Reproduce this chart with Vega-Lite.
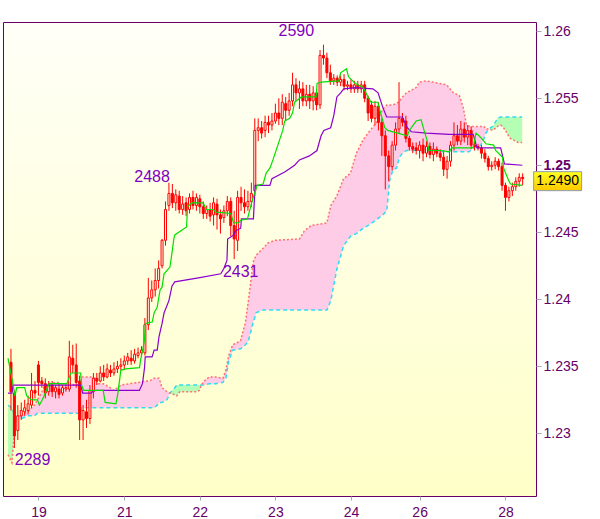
{
  "$schema": "https://vega.github.io/schema/vega-lite/v6.json",
  "width": 533,
  "height": 474,
  "autosize": "none",
  "padding": {"left": 3, "top": 22, "right": 64, "bottom": 23},
  "background": "#FFFFFF",
  "config": {
    "view": {"stroke": "#660066", "strokeWidth": 1, "fill": {"gradient": "linear", "x1": 0, "y1": 0, "x2": 0, "y2": 1, "stops": [{"offset": 0, "color": "#FFFFF8"}, {"offset": 1, "color": "#FFFFC8"}]}},
    "font": "Liberation Sans"
  },
  "datasets": {
    "bars": [
      {"t":0,"o":1.2353,"h":1.2363,"l":1.2317,"c":1.2331},
      {"t":1,"o":1.2330,"h":1.2332,"l":1.2289,"c":1.2298},
      {"t":2,"o":1.2302,"h":1.2321,"l":1.2295,"c":1.2313},
      {"t":3,"o":1.2313,"h":1.2323,"l":1.2310,"c":1.2317},
      {"t":4,"o":1.2316,"h":1.2325,"l":1.2313,"c":1.2319},
      {"t":5,"o":1.2317,"h":1.2328,"l":1.2314,"c":1.2322},
      {"t":6,"o":1.2321,"h":1.2345,"l":1.2319,"c":1.2332},
      {"t":7,"o":1.2332,"h":1.2339,"l":1.2326,"c":1.2330},
      {"t":8,"o":1.2351,"h":1.2354,"l":1.2328,"c":1.2338},
      {"t":9,"o":1.2339,"h":1.2342,"l":1.2334,"c":1.2337},
      {"t":10,"o":1.2337,"h":1.2341,"l":1.2326,"c":1.2330},
      {"t":11,"o":1.2331,"h":1.2339,"l":1.2328,"c":1.2336},
      {"t":12,"o":1.2336,"h":1.2339,"l":1.2327,"c":1.2331},
      {"t":13,"o":1.2331,"h":1.2336,"l":1.2326,"c":1.2334},
      {"t":14,"o":1.2333,"h":1.2337,"l":1.2326,"c":1.2329},
      {"t":15,"o":1.2330,"h":1.2336,"l":1.2328,"c":1.2334},
      {"t":16,"o":1.2333,"h":1.2336,"l":1.2331,"c":1.2334},
      {"t":17,"o":1.2333,"h":1.2369,"l":1.2331,"c":1.2357},
      {"t":18,"o":1.2356,"h":1.2366,"l":1.2345,"c":1.2351},
      {"t":19,"o":1.2351,"h":1.2367,"l":1.2334,"c":1.2338},
      {"t":20,"o":1.2339,"h":1.2343,"l":1.2295,"c":1.2310},
      {"t":21,"o":1.2310,"h":1.2321,"l":1.2295,"c":1.2317},
      {"t":22,"o":1.2316,"h":1.2325,"l":1.2304,"c":1.2311},
      {"t":23,"o":1.2311,"h":1.2336,"l":1.2307,"c":1.2332},
      {"t":24,"o":1.2331,"h":1.2345,"l":1.2326,"c":1.2341},
      {"t":25,"o":1.2341,"h":1.2345,"l":1.2336,"c":1.2339},
      {"t":26,"o":1.2339,"h":1.2350,"l":1.2338,"c":1.2345},
      {"t":27,"o":1.2345,"h":1.2351,"l":1.2339,"c":1.2342},
      {"t":28,"o":1.2342,"h":1.2352,"l":1.2341,"c":1.2348},
      {"t":29,"o":1.2347,"h":1.2351,"l":1.2342,"c":1.2345},
      {"t":30,"o":1.2345,"h":1.2353,"l":1.2343,"c":1.2348},
      {"t":31,"o":1.2348,"h":1.2354,"l":1.2345,"c":1.2350},
      {"t":32,"o":1.2350,"h":1.2356,"l":1.2347,"c":1.2351},
      {"t":33,"o":1.2351,"h":1.2358,"l":1.2348,"c":1.2354},
      {"t":34,"o":1.2354,"h":1.2360,"l":1.2351,"c":1.2357},
      {"t":35,"o":1.2356,"h":1.2362,"l":1.2351,"c":1.2354},
      {"t":36,"o":1.2354,"h":1.2363,"l":1.2352,"c":1.2359},
      {"t":37,"o":1.2358,"h":1.2364,"l":1.2356,"c":1.2360},
      {"t":38,"o":1.2360,"h":1.2365,"l":1.2357,"c":1.2362},
      {"t":39,"o":1.2360,"h":1.2386,"l":1.2358,"c":1.2381},
      {"t":40,"o":1.2381,"h":1.2416,"l":1.2377,"c":1.2401},
      {"t":41,"o":1.2401,"h":1.2414,"l":1.2398,"c":1.2407},
      {"t":42,"o":1.2407,"h":1.2423,"l":1.2402,"c":1.2414},
      {"t":43,"o":1.2414,"h":1.2429,"l":1.2408,"c":1.2423},
      {"t":44,"o":1.2425,"h":1.2445,"l":1.2423,"c":1.2444},
      {"t":45,"o":1.2444,"h":1.2473,"l":1.2440,"c":1.2467},
      {"t":46,"o":1.2470,"h":1.2487,"l":1.2466,"c":1.2479},
      {"t":47,"o":1.2479,"h":1.2486,"l":1.2468,"c":1.2472},
      {"t":48,"o":1.2472,"h":1.2482,"l":1.2466,"c":1.2478},
      {"t":49,"o":1.2477,"h":1.2481,"l":1.2464,"c":1.2467},
      {"t":50,"o":1.2467,"h":1.2477,"l":1.2463,"c":1.2471},
      {"t":51,"o":1.2472,"h":1.2476,"l":1.2462,"c":1.2466},
      {"t":52,"o":1.2467,"h":1.2479,"l":1.2464,"c":1.2476},
      {"t":53,"o":1.2476,"h":1.2481,"l":1.2467,"c":1.2470},
      {"t":54,"o":1.2470,"h":1.2479,"l":1.2466,"c":1.2476},
      {"t":55,"o":1.2475,"h":1.2478,"l":1.2464,"c":1.2469},
      {"t":56,"o":1.2469,"h":1.2473,"l":1.2460,"c":1.2464},
      {"t":57,"o":1.2464,"h":1.2470,"l":1.2460,"c":1.2467},
      {"t":58,"o":1.2467,"h":1.2472,"l":1.2458,"c":1.2462},
      {"t":59,"o":1.2463,"h":1.2476,"l":1.2455,"c":1.2472},
      {"t":60,"o":1.2471,"h":1.2475,"l":1.2452,"c":1.2463},
      {"t":61,"o":1.2463,"h":1.2467,"l":1.2449,"c":1.2460},
      {"t":62,"o":1.2461,"h":1.2470,"l":1.2457,"c":1.2466},
      {"t":63,"o":1.2466,"h":1.2477,"l":1.2462,"c":1.2473},
      {"t":64,"o":1.2473,"h":1.2476,"l":1.2447,"c":1.2455},
      {"t":65,"o":1.2455,"h":1.2466,"l":1.2430,"c":1.2445},
      {"t":66,"o":1.2444,"h":1.2481,"l":1.2436,"c":1.2476},
      {"t":67,"o":1.2476,"h":1.2484,"l":1.2466,"c":1.2472},
      {"t":68,"o":1.2472,"h":1.2482,"l":1.2464,"c":1.2469},
      {"t":69,"o":1.2469,"h":1.2481,"l":1.2466,"c":1.2473},
      {"t":70,"o":1.2473,"h":1.2487,"l":1.2469,"c":1.2479},
      {"t":71,"o":1.2481,"h":1.2535,"l":1.2477,"c":1.2526},
      {"t":72,"o":1.2526,"h":1.2535,"l":1.2518,"c":1.2528},
      {"t":73,"o":1.2528,"h":1.2533,"l":1.2520,"c":1.2524},
      {"t":74,"o":1.2526,"h":1.2537,"l":1.2521,"c":1.2532},
      {"t":75,"o":1.2532,"h":1.2537,"l":1.2524,"c":1.2530},
      {"t":76,"o":1.2530,"h":1.2539,"l":1.2526,"c":1.2533},
      {"t":77,"o":1.2533,"h":1.2546,"l":1.2531,"c":1.2539},
      {"t":78,"o":1.2539,"h":1.2550,"l":1.2530,"c":1.2535},
      {"t":79,"o":1.2535,"h":1.2553,"l":1.2530,"c":1.2547},
      {"t":80,"o":1.2546,"h":1.2551,"l":1.2533,"c":1.2541},
      {"t":81,"o":1.2541,"h":1.2554,"l":1.2537,"c":1.2548},
      {"t":82,"o":1.2548,"h":1.2569,"l":1.2544,"c":1.2560},
      {"t":83,"o":1.2560,"h":1.2565,"l":1.2548,"c":1.2554},
      {"t":84,"o":1.2554,"h":1.2563,"l":1.2542,"c":1.2557},
      {"t":85,"o":1.2557,"h":1.2562,"l":1.2544,"c":1.2548},
      {"t":86,"o":1.2548,"h":1.2560,"l":1.2544,"c":1.2553},
      {"t":87,"o":1.2553,"h":1.2560,"l":1.2542,"c":1.2548},
      {"t":88,"o":1.2548,"h":1.2559,"l":1.2541,"c":1.2554},
      {"t":89,"o":1.2554,"h":1.2557,"l":1.2541,"c":1.2545},
      {"t":90,"o":1.2545,"h":1.2586,"l":1.2542,"c":1.2582},
      {"t":91,"o":1.2582,"h":1.2590,"l":1.2575,"c":1.2580},
      {"t":92,"o":1.2580,"h":1.2584,"l":1.2565,"c":1.2569},
      {"t":93,"o":1.2569,"h":1.2575,"l":1.2560,"c":1.2563},
      {"t":94,"o":1.2563,"h":1.2568,"l":1.2560,"c":1.2565},
      {"t":95,"o":1.2565,"h":1.2567,"l":1.2559,"c":1.2562},
      {"t":96,"o":1.2562,"h":1.2567,"l":1.2559,"c":1.2564},
      {"t":97,"o":1.2564,"h":1.2568,"l":1.2556,"c":1.2559},
      {"t":98,"o":1.2559,"h":1.2563,"l":1.2556,"c":1.2560},
      {"t":99,"o":1.2560,"h":1.2564,"l":1.2554,"c":1.2557},
      {"t":100,"o":1.2557,"h":1.2563,"l":1.2554,"c":1.2560},
      {"t":101,"o":1.2560,"h":1.2563,"l":1.2554,"c":1.2557},
      {"t":102,"o":1.2557,"h":1.2563,"l":1.2554,"c":1.2560},
      {"t":103,"o":1.2560,"h":1.2563,"l":1.2547,"c":1.2550},
      {"t":104,"o":1.2550,"h":1.2552,"l":1.2533,"c":1.2539},
      {"t":105,"o":1.2545,"h":1.2548,"l":1.2532,"c":1.2535},
      {"t":106,"o":1.2535,"h":1.2548,"l":1.2530,"c":1.2544},
      {"t":107,"o":1.2544,"h":1.2547,"l":1.2526,"c":1.2532},
      {"t":108,"o":1.2532,"h":1.2535,"l":1.2507,"c":1.2522},
      {"t":109,"o":1.2522,"h":1.2526,"l":1.2482,"c":1.2507},
      {"t":110,"o":1.2507,"h":1.2511,"l":1.2488,"c":1.2499},
      {"t":111,"o":1.2499,"h":1.2518,"l":1.2496,"c":1.2515},
      {"t":112,"o":1.2515,"h":1.2532,"l":1.2511,"c":1.2527},
      {"t":113,"o":1.2527,"h":1.2562,"l":1.2524,"c":1.2535},
      {"t":114,"o":1.2535,"h":1.2539,"l":1.2529,"c":1.2532},
      {"t":115,"o":1.2533,"h":1.2537,"l":1.2517,"c":1.2520},
      {"t":116,"o":1.2520,"h":1.2522,"l":1.2511,"c":1.2514},
      {"t":117,"o":1.2514,"h":1.2517,"l":1.2509,"c":1.2512},
      {"t":118,"o":1.2513,"h":1.2517,"l":1.2508,"c":1.2511},
      {"t":119,"o":1.2511,"h":1.2518,"l":1.2505,"c":1.2515},
      {"t":120,"o":1.2515,"h":1.2520,"l":1.2503,"c":1.2509},
      {"t":121,"o":1.2509,"h":1.2518,"l":1.2506,"c":1.2514},
      {"t":122,"o":1.2514,"h":1.2517,"l":1.2505,"c":1.2508},
      {"t":123,"o":1.2508,"h":1.2517,"l":1.2503,"c":1.2512},
      {"t":124,"o":1.2512,"h":1.2514,"l":1.2506,"c":1.2509},
      {"t":125,"o":1.2509,"h":1.2512,"l":1.2503,"c":1.2506},
      {"t":126,"o":1.2506,"h":1.2511,"l":1.2492,"c":1.2497},
      {"t":127,"o":1.2497,"h":1.2507,"l":1.2490,"c":1.2503},
      {"t":128,"o":1.2503,"h":1.2518,"l":1.2499,"c":1.2515},
      {"t":129,"o":1.2515,"h":1.2532,"l":1.2511,"c":1.2522},
      {"t":130,"o":1.2522,"h":1.2530,"l":1.2515,"c":1.2518},
      {"t":131,"o":1.2518,"h":1.2533,"l":1.2515,"c":1.2527},
      {"t":132,"o":1.2527,"h":1.2532,"l":1.2517,"c":1.2521},
      {"t":133,"o":1.2521,"h":1.2530,"l":1.2515,"c":1.2526},
      {"t":134,"o":1.2526,"h":1.2529,"l":1.2512,"c":1.2515},
      {"t":135,"o":1.2515,"h":1.2518,"l":1.2511,"c":1.2514},
      {"t":136,"o":1.2514,"h":1.2516,"l":1.2511,"c":1.2513},
      {"t":137,"o":1.2513,"h":1.2515,"l":1.2505,"c":1.2509},
      {"t":138,"o":1.2509,"h":1.2512,"l":1.2502,"c":1.2505},
      {"t":139,"o":1.2505,"h":1.2507,"l":1.2496,"c":1.2499},
      {"t":140,"o":1.2499,"h":1.2503,"l":1.2496,"c":1.2500},
      {"t":141,"o":1.2500,"h":1.2506,"l":1.2497,"c":1.2503},
      {"t":142,"o":1.2503,"h":1.2505,"l":1.2496,"c":1.2499},
      {"t":143,"o":1.2499,"h":1.2502,"l":1.2481,"c":1.2485},
      {"t":144,"o":1.2485,"h":1.2487,"l":1.2466,"c":1.2476},
      {"t":145,"o":1.2476,"h":1.2484,"l":1.2473,"c":1.2481},
      {"t":146,"o":1.2481,"h":1.2487,"l":1.2477,"c":1.2484},
      {"t":147,"o":1.2484,"h":1.2491,"l":1.2481,"c":1.2488},
      {"t":148,"o":1.2488,"h":1.2494,"l":1.2484,"c":1.2491},
      {"t":149,"o":1.2491,"h":1.2494,"l":1.2485,"c":1.2490}
    ],
    "cloud": [
      {"t":-0.86,"a":1.2321,"b":1.2284,"seg":"g1","kind":"bull"},
      {"t":0.29,"a":1.2319,"b":1.2278,"seg":"g1","kind":"bull"},
      {"t":1.14,"a":1.2313,"b":1.2306,"seg":"g1","kind":"bull"},
      {"t":1.43,"a":1.2312,"b":1.2312,"seg":"g1","kind":"bull"},
      {"t":1.43,"a":1.2312,"b":1.2312,"seg":"p1","kind":"bear"},
      {"t":2,"a":1.2311,"b":1.2313,"seg":"p1","kind":"bear"},
      {"t":3.14,"a":1.2311,"b":1.2314,"seg":"p1","kind":"bear"},
      {"t":4.86,"a":1.2313,"b":1.2316,"seg":"p1","kind":"bear"},
      {"t":6.86,"a":1.2313,"b":1.2321,"seg":"p1","kind":"bear"},
      {"t":7.71,"a":1.2315,"b":1.2325,"seg":"p1","kind":"bear"},
      {"t":8.86,"a":1.2315,"b":1.2330,"seg":"p1","kind":"bear"},
      {"t":9.71,"a":1.2315,"b":1.2335,"seg":"p1","kind":"bear"},
      {"t":11.14,"a":1.2315,"b":1.2337,"seg":"p1","kind":"bear"},
      {"t":13.43,"a":1.2315,"b":1.2338,"seg":"p1","kind":"bear"},
      {"t":14.57,"a":1.2315,"b":1.2337,"seg":"p1","kind":"bear"},
      {"t":20.29,"a":1.2315,"b":1.2336,"seg":"p1","kind":"bear"},
      {"t":20.57,"a":1.2319,"b":1.2342,"seg":"p1","kind":"bear"},
      {"t":23.14,"a":1.2319,"b":1.2342,"seg":"p1","kind":"bear"},
      {"t":24.57,"a":1.2319,"b":1.2341,"seg":"p1","kind":"bear"},
      {"t":25.43,"a":1.2319,"b":1.2337,"seg":"p1","kind":"bear"},
      {"t":26.86,"a":1.2319,"b":1.2337,"seg":"p1","kind":"bear"},
      {"t":28.86,"a":1.2319,"b":1.2334,"seg":"p1","kind":"bear"},
      {"t":29.71,"a":1.2319,"b":1.2332,"seg":"p1","kind":"bear"},
      {"t":31.14,"a":1.2319,"b":1.2334,"seg":"p1","kind":"bear"},
      {"t":32,"a":1.2319,"b":1.2336,"seg":"p1","kind":"bear"},
      {"t":34.57,"a":1.2319,"b":1.2337,"seg":"p1","kind":"bear"},
      {"t":37.43,"a":1.2319,"b":1.2338,"seg":"p1","kind":"bear"},
      {"t":38.86,"a":1.2319,"b":1.2339,"seg":"p1","kind":"bear"},
      {"t":40.29,"a":1.2319,"b":1.2339,"seg":"p1","kind":"bear"},
      {"t":41.71,"a":1.2319,"b":1.2341,"seg":"p1","kind":"bear"},
      {"t":42.57,"a":1.2321,"b":1.2341,"seg":"p1","kind":"bear"},
      {"t":43.14,"a":1.2323,"b":1.2341,"seg":"p1","kind":"bear"},
      {"t":44,"a":1.2323,"b":1.2334,"seg":"p1","kind":"bear"},
      {"t":45.43,"a":1.2325,"b":1.2331,"seg":"p1","kind":"bear"},
      {"t":46.29,"a":1.2330,"b":1.2330,"seg":"p1","kind":"bear"},
      {"t":46.29,"a":1.2330,"b":1.2330,"seg":"g2","kind":"bull"},
      {"t":47.43,"a":1.2333,"b":1.2329,"seg":"g2","kind":"bull"},
      {"t":48.29,"a":1.2336,"b":1.2328,"seg":"g2","kind":"bull"},
      {"t":49.14,"a":1.2336,"b":1.2331,"seg":"g2","kind":"bull"},
      {"t":51.14,"a":1.2336,"b":1.2331,"seg":"g2","kind":"bull"},
      {"t":54,"a":1.2336,"b":1.2331,"seg":"g2","kind":"bull"},
      {"t":54.86,"a":1.2336,"b":1.2332,"seg":"g2","kind":"bull"},
      {"t":55.43,"a":1.2336,"b":1.2336,"seg":"g2","kind":"bull"},
      {"t":55.43,"a":1.2336,"b":1.2336,"seg":"p2","kind":"bear"},
      {"t":56.29,"a":1.2336,"b":1.2339,"seg":"p2","kind":"bear"},
      {"t":57.71,"a":1.2337,"b":1.2342,"seg":"p2","kind":"bear"},
      {"t":59.71,"a":1.2337,"b":1.2342,"seg":"p2","kind":"bear"},
      {"t":61.71,"a":1.2338,"b":1.2341,"seg":"p2","kind":"bear"},
      {"t":62.57,"a":1.2341,"b":1.2347,"seg":"p2","kind":"bear"},
      {"t":63.43,"a":1.2354,"b":1.2358,"seg":"p2","kind":"bear"},
      {"t":64.57,"a":1.2362,"b":1.2366,"seg":"p2","kind":"bear"},
      {"t":66.86,"a":1.2363,"b":1.2369,"seg":"p2","kind":"bear"},
      {"t":68.29,"a":1.2366,"b":1.2383,"seg":"p2","kind":"bear"},
      {"t":69.14,"a":1.2369,"b":1.2399,"seg":"p2","kind":"bear"},
      {"t":70.57,"a":1.2383,"b":1.2428,"seg":"p2","kind":"bear"},
      {"t":71.43,"a":1.2390,"b":1.2433,"seg":"p2","kind":"bear"},
      {"t":73.43,"a":1.2392,"b":1.2438,"seg":"p2","kind":"bear"},
      {"t":74.86,"a":1.2392,"b":1.2442,"seg":"p2","kind":"bear"},
      {"t":76.86,"a":1.2392,"b":1.2444,"seg":"p2","kind":"bear"},
      {"t":84,"a":1.2392,"b":1.2445,"seg":"p2","kind":"bear"},
      {"t":85.43,"a":1.2392,"b":1.2451,"seg":"p2","kind":"bear"},
      {"t":87.43,"a":1.2392,"b":1.2455,"seg":"p2","kind":"bear"},
      {"t":92,"a":1.2392,"b":1.2457,"seg":"p2","kind":"bear"},
      {"t":93.14,"a":1.2399,"b":1.2470,"seg":"p2","kind":"bear"},
      {"t":94.86,"a":1.2422,"b":1.2477,"seg":"p2","kind":"bear"},
      {"t":96.86,"a":1.2440,"b":1.2490,"seg":"p2","kind":"bear"},
      {"t":98.86,"a":1.2447,"b":1.2494,"seg":"p2","kind":"bear"},
      {"t":100.57,"a":1.2449,"b":1.2509,"seg":"p2","kind":"bear"},
      {"t":102.57,"a":1.2453,"b":1.2519,"seg":"p2","kind":"bear"},
      {"t":104.57,"a":1.2456,"b":1.2526,"seg":"p2","kind":"bear"},
      {"t":106.29,"a":1.2459,"b":1.2531,"seg":"p2","kind":"bear"},
      {"t":108.29,"a":1.2463,"b":1.2542,"seg":"p2","kind":"bear"},
      {"t":109.43,"a":1.2466,"b":1.2545,"seg":"p2","kind":"bear"},
      {"t":110.29,"a":1.2489,"b":1.2545,"seg":"p2","kind":"bear"},
      {"t":111.14,"a":1.2496,"b":1.2545,"seg":"p2","kind":"bear"},
      {"t":112.29,"a":1.2498,"b":1.2546,"seg":"p2","kind":"bear"},
      {"t":113.14,"a":1.2506,"b":1.2548,"seg":"p2","kind":"bear"},
      {"t":114,"a":1.2509,"b":1.2551,"seg":"p2","kind":"bear"},
      {"t":115.14,"a":1.2511,"b":1.2554,"seg":"p2","kind":"bear"},
      {"t":118,"a":1.2511,"b":1.2558,"seg":"p2","kind":"bear"},
      {"t":118.86,"a":1.2511,"b":1.2562,"seg":"p2","kind":"bear"},
      {"t":120.86,"a":1.2511,"b":1.2563,"seg":"p2","kind":"bear"},
      {"t":126.86,"a":1.2510,"b":1.2560,"seg":"p2","kind":"bear"},
      {"t":128.86,"a":1.2510,"b":1.2554,"seg":"p2","kind":"bear"},
      {"t":130.57,"a":1.2510,"b":1.2552,"seg":"p2","kind":"bear"},
      {"t":131.71,"a":1.2510,"b":1.2543,"seg":"p2","kind":"bear"},
      {"t":132.57,"a":1.2510,"b":1.2531,"seg":"p2","kind":"bear"},
      {"t":133.43,"a":1.2510,"b":1.2529,"seg":"p2","kind":"bear"},
      {"t":134.57,"a":1.2513,"b":1.2529,"seg":"p2","kind":"bear"},
      {"t":136.86,"a":1.2515,"b":1.2529,"seg":"p2","kind":"bear"},
      {"t":137.71,"a":1.2520,"b":1.2529,"seg":"p2","kind":"bear"},
      {"t":138.29,"a":1.2524,"b":1.2527,"seg":"p2","kind":"bear"},
      {"t":139.14,"a":1.2527,"b":1.2527,"seg":"p2","kind":"bear"},
      {"t":139.14,"a":1.2527,"b":1.2527,"seg":"g3","kind":"bull"},
      {"t":140.29,"a":1.2529,"b":1.2526,"seg":"g3","kind":"bull"},
      {"t":141.71,"a":1.2535,"b":1.2529,"seg":"g3","kind":"bull"},
      {"t":142.57,"a":1.2536,"b":1.2530,"seg":"g3","kind":"bull"},
      {"t":143.14,"a":1.2536,"b":1.2529,"seg":"g3","kind":"bull"},
      {"t":144,"a":1.2536,"b":1.2526,"seg":"g3","kind":"bull"},
      {"t":144.86,"a":1.2536,"b":1.2522,"seg":"g3","kind":"bull"},
      {"t":145.43,"a":1.2536,"b":1.2520,"seg":"g3","kind":"bull"},
      {"t":147.71,"a":1.2536,"b":1.2517,"seg":"g3","kind":"bull"},
      {"t":148.86,"a":1.2536,"b":1.2517,"seg":"g3","kind":"bull"}
    ],
    "kijun": [
      {"t":-0.86,"v":1.2330},{"t":0.3,"v":1.2330},{"t":0.6,"v":1.2336},{"t":20.3,"v":1.2336},{"t":20.9,"v":1.2330},{"t":23.4,"v":1.2330},{"t":24,"v":1.2332},{"t":37.4,"v":1.2332},{"t":38.3,"v":1.2337},{"t":38.9,"v":1.2349},{"t":39.1,"v":1.2357},{"t":41.1,"v":1.2357},{"t":41.7,"v":1.2362},{"t":42.6,"v":1.2362},{"t":43.1,"v":1.2372},{"t":44,"v":1.2382},{"t":44.6,"v":1.2390},{"t":46,"v":1.2399},{"t":46.9,"v":1.2410},{"t":47.7,"v":1.2413},{"t":54.6,"v":1.2416},{"t":61.1,"v":1.2419},{"t":62,"v":1.2423},{"t":62.9,"v":1.2429},{"t":63.1,"v":1.2445},{"t":64.9,"v":1.2448},{"t":65.4,"v":1.2451},{"t":66.9,"v":1.2453},{"t":67.1,"v":1.2460},{"t":70.6,"v":1.2460},{"t":71.1,"v":1.2485},{"t":75.4,"v":1.2485},{"t":76,"v":1.2490},{"t":79.7,"v":1.2495},{"t":82.6,"v":1.2500},{"t":84,"v":1.2504},{"t":86.9,"v":1.2507},{"t":89.1,"v":1.2511},{"t":90.3,"v":1.2522},{"t":91.1,"v":1.2526},{"t":93.1,"v":1.2528},{"t":94,"v":1.2537},{"t":94.9,"v":1.2551},{"t":96,"v":1.2554},{"t":96.9,"v":1.2557},{"t":100.3,"v":1.2558},{"t":105.4,"v":1.2557},{"t":106.9,"v":1.2554},{"t":108.3,"v":1.2543},{"t":109.4,"v":1.2536},{"t":114,"v":1.2536},{"t":115.4,"v":1.2528},{"t":116.6,"v":1.2525},{"t":120.9,"v":1.2524},{"t":127.7,"v":1.2523},{"t":134.6,"v":1.2523},{"t":135.7,"v":1.2513},{"t":142.6,"v":1.2513},{"t":143.7,"v":1.2501},{"t":148.9,"v":1.2500}
    ],
    "tenkan": [
      {"t":-0.86,"v":1.2356},{"t":0.57,"v":1.2337},{"t":1.14,"v":1.2328},{"t":1.71,"v":1.2334},{"t":4,"v":1.2334},{"t":4.57,"v":1.2328},{"t":6,"v":1.2325},{"t":7.71,"v":1.2325},{"t":8.29,"v":1.2321},{"t":9.14,"v":1.2325},{"t":10.29,"v":1.2332},{"t":11.14,"v":1.2337},{"t":16.29,"v":1.2337},{"t":17.43,"v":1.2345},{"t":20.29,"v":1.2345},{"t":20.57,"v":1.2336},{"t":21.14,"v":1.2332},{"t":26.86,"v":1.2332},{"t":27.43,"v":1.2323},{"t":30.57,"v":1.2322},{"t":31.14,"v":1.2330},{"t":32,"v":1.2347},{"t":33.43,"v":1.2348},{"t":37.43,"v":1.2349},{"t":37.71,"v":1.2354},{"t":38.86,"v":1.2369},{"t":39.14,"v":1.2382},{"t":41.14,"v":1.2383},{"t":41.71,"v":1.2390},{"t":42.57,"v":1.2394},{"t":43.43,"v":1.2407},{"t":44,"v":1.2409},{"t":44.57,"v":1.2419},{"t":46.29,"v":1.2424},{"t":46.86,"v":1.2434},{"t":47.43,"v":1.2445},{"t":47.71,"v":1.2448},{"t":51.14,"v":1.2454},{"t":51.43,"v":1.2469},{"t":52.57,"v":1.2472},{"t":56,"v":1.2472},{"t":56.86,"v":1.2467},{"t":58.86,"v":1.2467},{"t":59.71,"v":1.2465},{"t":64,"v":1.2464},{"t":64.86,"v":1.2457},{"t":66.29,"v":1.2457},{"t":66.86,"v":1.2459},{"t":68.86,"v":1.2460},{"t":70.29,"v":1.2474},{"t":71.71,"v":1.2485},{"t":73.43,"v":1.2486},{"t":74.29,"v":1.2494},{"t":75.43,"v":1.2498},{"t":76.29,"v":1.2504},{"t":79.14,"v":1.2526},{"t":79.71,"v":1.2533},{"t":81.14,"v":1.2535},{"t":82,"v":1.2539},{"t":82.57,"v":1.2547},{"t":84.57,"v":1.2551},{"t":88.86,"v":1.2551},{"t":89.14,"v":1.2561},{"t":90.29,"v":1.2562},{"t":95.43,"v":1.2563},{"t":96,"v":1.2569},{"t":97.71,"v":1.2572},{"t":98.29,"v":1.2566},{"t":100.29,"v":1.2561},{"t":102.57,"v":1.2558},{"t":104,"v":1.2551},{"t":104.86,"v":1.2547},{"t":106.86,"v":1.2547},{"t":107.43,"v":1.2541},{"t":108.86,"v":1.2528},{"t":109.71,"v":1.2526},{"t":112.57,"v":1.2524},{"t":115.43,"v":1.2522},{"t":116,"v":1.2526},{"t":118,"v":1.2533},{"t":119.43,"v":1.2534},{"t":120.29,"v":1.2526},{"t":121.14,"v":1.2519},{"t":121.71,"v":1.2511},{"t":125.14,"v":1.2511},{"t":127.71,"v":1.2510},{"t":128.29,"v":1.2513},{"t":134.57,"v":1.2513},{"t":135.43,"v":1.2524},{"t":136.29,"v":1.2522},{"t":137.43,"v":1.2519},{"t":138.29,"v":1.2516},{"t":140.57,"v":1.2515},{"t":141.14,"v":1.2511},{"t":143.14,"v":1.2506},{"t":143.43,"v":1.2498},{"t":144.86,"v":1.2489},{"t":145.43,"v":1.2486},{"t":148.86,"v":1.2485}
    ],
    "labels": [
      {"t":83.1,"p":1.2600,"label":"2590"},
      {"t":41.1,"p":1.2491,"label":"2488"},
      {"t":66.9,"p":1.2420,"label":"2431"},
      {"t":6.3,"p":1.2280,"label":"2289"}
    ],
    "tag": [
      {"t":149,"p":1.2490,"label":"1.2490"}
    ]
  },
  "encoding": {
    "x": {
      "field": "t",
      "type": "quantitative",
      "scale": {"domain": [-0.86, 151.43], "nice": false, "zero": false},
      "axis": {
        "title": null,
        "values": [8, 33, 55, 77, 99, 119, 144],
        "labelExpr": "datum.value == 8 ? '19' : datum.value == 33 ? '21' : datum.value == 55 ? '22' : datum.value == 77 ? '23' : datum.value == 99 ? '24' : datum.value == 119 ? '26' : '28'",
        "grid": false,
        "domain": false,
        "tickColor": "#A0AAB4",
        "tickSize": 4,
        "labelColor": "#660066",
        "labelFont": "Liberation Sans",
        "labelFontSize": 14,
        "labelPadding": 5
      }
    }
  },
  "layer": [
    {
      "data": {"name": "cloud"},
      "mark": {"type": "area", "interpolate": "linear"},
      "encoding": {
        "y": {
          "field": "a",
          "type": "quantitative",
          "stack": null,
          "title": null,
          "scale": {"domain": [1.22532, 1.26069], "nice": false, "zero": false},
          "axis": {
            "orient": "right",
            "values": [1.23, 1.235, 1.24, 1.245, 1.25, 1.255, 1.26],
            "format": "~g",
            "grid": false,
            "domain": false,
            "tickColor": "#A0AAB4",
            "tickSize": 5,
            "labelPadding": 2,
            "labelColor": "#660066",
            "labelFont": "Liberation Sans",
            "labelFontSize": 14,
            "labelFontWeight": {"condition": {"test": "datum.value == 1.25", "value": "bold"}, "value": "normal"}
          }
        },
        "y2": {"field": "b"},
        "detail": {"field": "seg"},
        "color": {"field": "kind", "type": "nominal", "scale": {"domain": ["bear", "bull"], "range": ["#FFCCE8", "#B4FFB4"]}, "legend": null}
      }
    },
    {
      "data": {"name": "cloud"},
      "mark": {"type": "line", "color": "#30DDF0", "strokeWidth": 1.5, "strokeDash": [4, 3]},
      "encoding": {"y": {"field": "a", "type": "quantitative", "title": null}}
    },
    {
      "data": {"name": "cloud"},
      "mark": {"type": "line", "color": "#FF7070", "strokeWidth": 1.5, "strokeDash": [2, 2]},
      "encoding": {"y": {"field": "b", "type": "quantitative", "title": null}}
    },
    {
      "data": {"name": "bars"},
      "mark": {"type": "rule", "color": "#FF0000", "strokeWidth": 1},
      "encoding": {"y": {"field": "l", "type": "quantitative", "title": null}, "y2": {"field": "h"}}
    },
    {
      "data": {"name": "bars"},
      "mark": {"type": "bar", "size": 2, "stroke": "#FF0000", "strokeWidth": 1},
      "encoding": {
        "y": {"field": "o", "type": "quantitative", "title": null},
        "y2": {"field": "c"},
        "color": {"condition": {"test": "datum.c < datum.o", "value": "#FF0000"}, "value": "#FFFFEE"}
      }
    },
    {
      "data": {"name": "kijun"},
      "mark": {"type": "line", "color": "#8A00CC", "strokeWidth": 1.2},
      "encoding": {"y": {"field": "v", "type": "quantitative", "title": null}}
    },
    {
      "data": {"name": "tenkan"},
      "mark": {"type": "line", "color": "#00E000", "strokeWidth": 1.2},
      "encoding": {"y": {"field": "v", "type": "quantitative", "title": null}}
    },
    {
      "data": {"name": "labels"},
      "mark": {"type": "text", "color": "#8000C0", "font": "Liberation Sans", "fontSize": 16, "align": "center", "baseline": "middle"},
      "encoding": {"y": {"field": "p", "type": "quantitative", "title": null}, "text": {"field": "label"}}
    },
    {
      "data": {"name": "tag"},
      "mark": {"type": "tick", "orient": "horizontal", "size": 48, "thickness": 19, "xOffset": 35, "yOffset": 2.5, "stroke": "#8C9CB4", "strokeWidth": 1, "opacity": 1, "color": {"gradient": "linear", "x1": 0, "y1": 0, "x2": 0, "y2": 1, "stops": [{"offset": 0, "color": "#FFFF20"}, {"offset": 1, "color": "#FFC800"}]}},
      "encoding": {"y": {"field": "p", "type": "quantitative", "title": null}}
    },
    {
      "data": {"name": "tag"},
      "mark": {"type": "text", "color": "#000000", "font": "Liberation Sans", "fontSize": 14, "align": "center", "baseline": "middle", "xOffset": 35, "yOffset": 2.5},
      "encoding": {"y": {"field": "p", "type": "quantitative", "title": null}, "text": {"field": "label"}}
    }
  ]
}
